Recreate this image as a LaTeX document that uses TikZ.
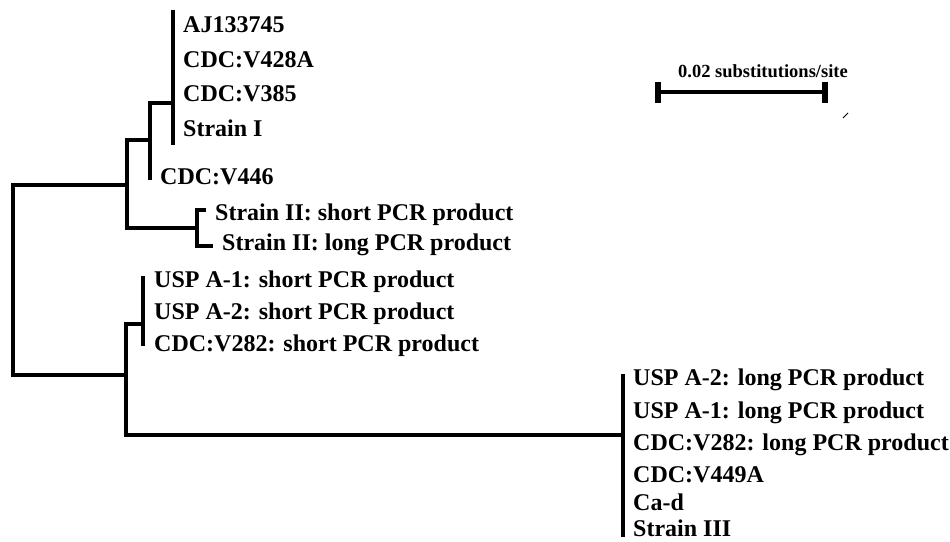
\documentclass[tikz,border=0pt]{standalone}
\usepackage{fontspec}
\setmainfont{Liberation Serif}
\begin{document}
\begin{tikzpicture}[x=1pt,y=-1pt,
  br/.style={line width=4pt,line cap=rect,line join=miter},
  lab/.style={anchor=base west,inner sep=0pt,font=\fontsize{24}{28}\selectfont\bfseries},
  scalelab/.style={anchor=base west,inner sep=0pt,font=\fontsize{18.5}{22}\selectfont\bfseries}]
\useasboundingbox (0,0) rectangle (950,541);
% coordinates of tree nodes
\coordinate (cItop) at (173,12);
\coordinate (cIbot) at (173,143);
\coordinate (cIj) at (173,103);
\coordinate (n2) at (150,103);
\coordinate (v446) at (150,178);
\coordinate (n2j) at (150,140);
\coordinate (n3) at (127,185);
\coordinate (s2j) at (197,228);
\coordinate (s2top) at (204,210);
\coordinate (s2bot) at (211,246);
\coordinate (root) at (13,280);
\coordinate (n4) at (126,375);
\coordinate (shj) at (143,324);
\coordinate (shtop) at (143,278);
\coordinate (shbot) at (143,344);
\coordinate (lgj) at (623,435);
\coordinate (lgtop) at (623,376);
\coordinate (lgbot) at (623,535);
% branches
\draw[br] (cItop) -- (cIbot);
\draw[br] (cIj) -- (n2) -- (v446);
\draw[br] (n2j) -| (n3) |- (s2j);
\draw[br] (s2top) -| (s2j) |- (s2bot);
\draw[br] (n3) -| (root) |- (n4);
\draw[br] (shj) -| (n4) |- (lgj);
\draw[br] (shtop) -- (shbot);
\draw[br] (lgtop) -- (lgbot);
% labels
\node[lab] (l1) at (183,32) {AJ133745};
\node[lab] (l2) at (183,67) {CDC:V428A};
\node[lab] (l3) at (183,101) {CDC:V385};
\node[lab] (l4) at (183,136) {Strain I};
\node[lab] (l5) at (160,184) {CDC:V446};
\node[lab] (l6) at (215,220) {Strain II: short PCR product};
\node[lab] (l7) at (222,250) {Strain II: long PCR product};
\node[lab] (l8) at (154,287) {USP A-1: short PCR product};
\node[lab] (l9) at (154,319) {USP A-2: short PCR product};
\node[lab] (l10) at (154,351) {CDC:V282: short PCR product};
\node[lab] (l11) at (633,385) {USP A-2: long PCR product};
\node[lab] (l12) at (633,418) {USP A-1: long PCR product};
\node[lab] (l13) at (633,450) {CDC:V282: long PCR product};
\node[lab] (l14) at (633,482) {CDC:V449A};
\node[lab] (l15) at (633,510) {Ca-d};
\node[lab] (l16) at (633,536) {Strain III};
% scale bar
\node[scalelab] (sc) at (678,77) {0.02 substitutions/site};
\coordinate (sbl) at (658,92);
\coordinate (sbr) at (825,92);
\draw[line width=4pt] (sbl) -- (sbr);
\draw[line width=6pt] ([yshift=-10.5pt]sbl) -- ([yshift=10.5pt]sbl);
\draw[line width=6pt] ([yshift=-10.5pt]sbr) -- ([yshift=10.5pt]sbr);
\coordinate (m1) at (843,118);
\coordinate (m2) at (848,113);
\draw[line width=1pt] (m1) -- (m2);
\end{tikzpicture}
\end{document}
